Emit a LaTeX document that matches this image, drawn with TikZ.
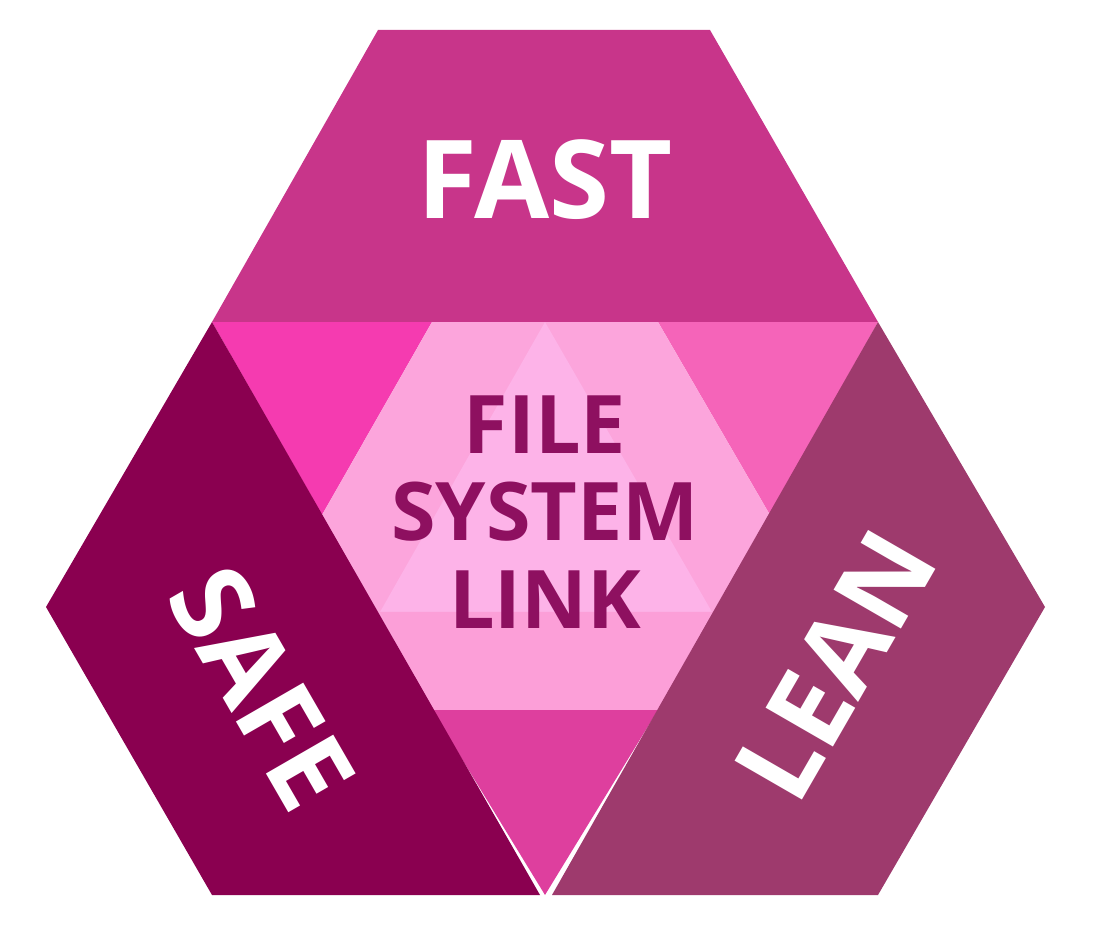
\documentclass[tikz,border=0pt]{standalone}
\usepackage{fontspec}
\setmainfont{Open Sans}
\definecolor{cfast}{HTML}{C8358A}
\definecolor{csafe}{HTML}{8A0050}
\definecolor{clean}{HTML}{9E3A6D}
\definecolor{ctl}{HTML}{F53BB0}
\definecolor{ctr}{HTML}{F564B9}
\definecolor{cbot}{HTML}{DE3F9E}
\definecolor{chex}{HTML}{FCA5DC}
\definecolor{ctri}{HTML}{FDB3E8}
\definecolor{cband}{HTML}{FC9FD8}
\definecolor{ctext}{HTML}{8E1060}
\begin{document}
\begin{tikzpicture}[x=0.02cm,y=-0.02cm,
  big/.style={text=white,font=\fontsize{62}{62}\selectfont\bfseries},
  mid/.style={text=ctext,font=\fontsize{46}{50}\selectfont\bfseries,align=center}]
\useasboundingbox (0,0) rectangle (1100,942);
\fill[ctl] (212,322)--(432,322)--(322,515)--cycle;
\fill[ctr] (658,322)--(878,322)--(770,515)--cycle;
\fill[cbot] (432,710)--(658,710)--(545,895)--cycle;
\fill[chex] (432,322)--(658,322)--(770,515)--(658,710)--(432,710)--(322,515)--cycle;
\fill[ctri] (545,322)--(712,612)--(380,612)--cycle;
\fill[cband] (380,612)--(712,612)--(658,710)--(432,710)--cycle;
\fill[cfast] (378,30)--(710,30)--(878,322)--(212,322)--cycle;
\fill[csafe] (212,322)--(46,607)--(212,895)--(540,895)--cycle;
\fill[clean] (878,322)--(1045,607)--(878,895)--(552,895)--cycle;
\node[big] (fast) at (545,180) {FAST};
\node[big,rotate=-60] (safe) at (262,688) {SAFE};
\node[big,rotate=60] (lean) at (835,665) {LEAN};
\node[mid] (fsl) at (545,512) {FILE\\SYSTEM\\LINK};
\end{tikzpicture}
\end{document}
